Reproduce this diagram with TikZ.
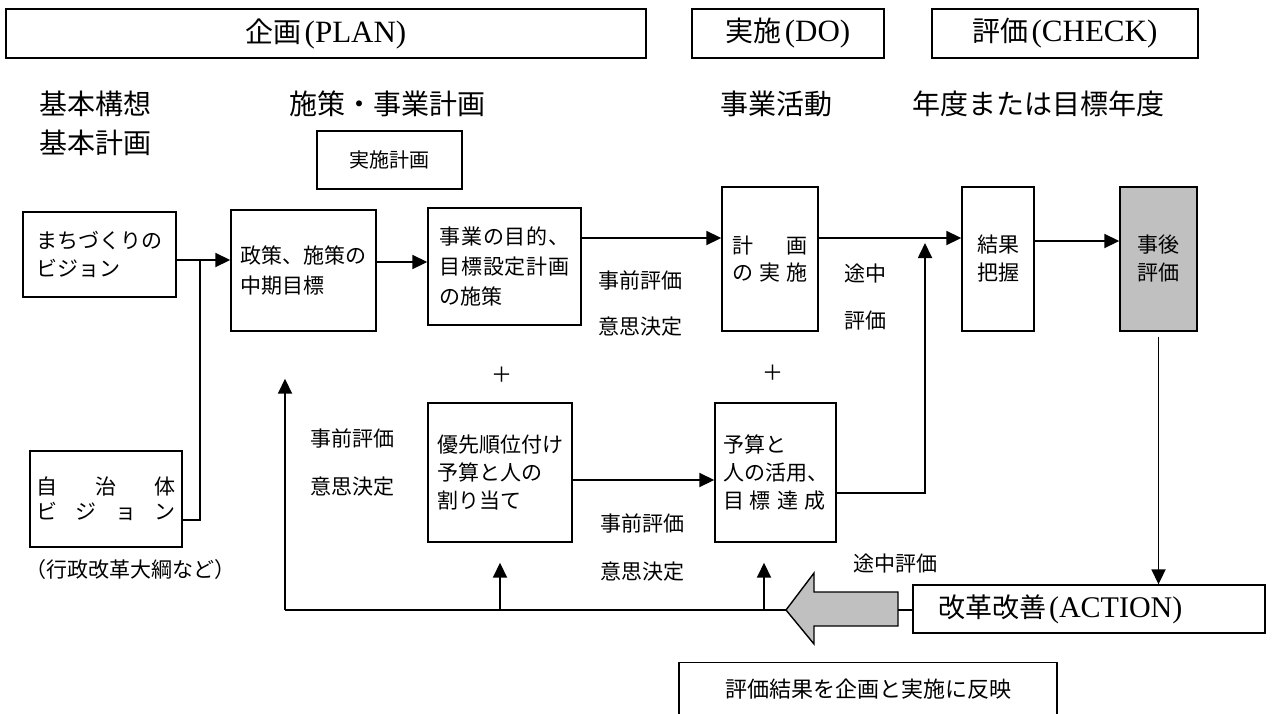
\documentclass[tikz,border=0pt]{standalone}
\usepackage{fontspec}
\setmainfont{Liberation Serif}
\newfontfamily\jp{Noto Sans CJK JP}
\usetikzlibrary{arrows.meta}
\definecolor{boxgray}{HTML}{C0C0C0}

\begin{document}
\begin{tikzpicture}[x=0.5pt,y=-0.5pt,
  box/.style={draw,line width=0.7pt,inner sep=0pt,align=left,font=\jp\fontsize{10.5}{14}\selectfont},
  title/.style={draw,line width=0.7pt,inner sep=0pt,minimum height=24.5pt,font=\jp\fontsize{14}{16}\selectfont},
  head/.style={anchor=west,inner sep=0pt,font=\jp\fontsize{14}{18}\selectfont},
  lbl/.style={inner sep=0pt,font=\jp\fontsize{10.5}{14}\selectfont},
  arr/.style={line width=0.9pt,-{Triangle[length=7.5pt,width=7pt]}},
  ln/.style={line width=0.8pt}]

\useasboundingbox (0,0) rectangle (1272,713);

% PDCA titles
\node[title,minimum width=320pt] (plan) at (326,33.5) {企画{\rmfamily\fontsize{15.5}{16}\selectfont\hspace{1.5pt}(PLAN)\hspace{1.5pt}}};
\node[title,minimum width=96pt] (do) at (788,33.5) {実施{\rmfamily\fontsize{15.5}{16}\selectfont\hspace{1.5pt}(DO)\hspace{3pt}}};
\node[title,minimum width=133pt] (check) at (1065,33.5) {評価{\rmfamily\fontsize{15.5}{16}\selectfont\hspace{1.5pt}(CHECK)\hspace{3pt}}};

\node[head] (h1) at (39,104) {基本構想};
\node[head] (h2) at (39,143) {基本計画};
\node[head] (h3) at (289,104) {施策・事業計画};
\node[head] (h4) at (720,104) {事業活動};
\node[head] (h5) at (912,104) {年度または目標年度};
\node[box,align=center,minimum width=72.5pt,minimum height=29pt,font=\jp\fontsize{10}{12}\selectfont] (jk) at (389.5,160) {実施計画};

% upper row
\node[box,minimum width=76.5pt,minimum height=42.5pt] (vision) at (99.5,254.5) {まちづくりの\\ビジョン};
\node[box,minimum width=72.5pt,minimum height=60.5pt,font=\jp\fontsize{10.5}{15}\selectfont] (policy) at (303.5,270.5) {政策、施策の\\中期目標};
\node[box,minimum width=76.5pt,minimum height=58.5pt,font=\jp\fontsize{10.5}{15}\selectfont] (purpose) at (504.5,266.5)
  {\makebox[65pt][s]{事\hfil 業\hfil の\hfil 目\hfil 的\hfil 、}\\\makebox[65pt][s]{目\hfil 標\hfil 設\hfil 定\hfil 計\hfil 画}\\の施策};
\node[box,minimum width=48pt,minimum height=72pt,font=\jp\fontsize{10.5}{13.5}\selectfont] (exec) at (770,259)
  {\makebox[37.5pt][s]{計\hfil 画}\\\makebox[37.5pt][s]{の\hfil 実\hfil 施}};
\node[box,align=center,minimum width=36pt,minimum height=72pt] (result) at (998,259) {結果\\把握};
\node[box,align=center,fill=boxgray,minimum width=38.5pt,minimum height=72pt] (post) at (1158.5,259) {事後\\評価};

% lower row
\node[box,minimum width=72pt,minimum height=69.5pt] (prio) at (500,472.5) {優先順位付け\\予算と人の\\割り当て};
\node[box,minimum width=60.5pt,minimum height=69.5pt] (budget) at (775.5,472.5)
  {予算と\\人の活用、\\\makebox[51pt][s]{目\hfil 標\hfil 達\hfil 成}};
\node[box,minimum width=76pt,minimum height=48pt,font=\jp\fontsize{10.5}{12.5}\selectfont] (local) at (106,499)
  {\makebox[70pt][s]{自\hfil 治\hfil 体}\\\makebox[70pt][s]{ビ\hfil ジ\hfil ョ\hfil ン}};
\node[lbl,anchor=west] (gyosei) at (25,570) {（行政改革大綱など）};

\node[box,text width=151pt,inner xsep=12.5pt,minimum height=24pt,font=\jp\fontsize{13.5}{16}\selectfont] (action) at (1089,609) {改革改善{\rmfamily\fontsize{15}{16}\selectfont\hspace{1.5pt}(ACTION)}};
\node[draw,line width=0.7pt,anchor=north,inner sep=0pt,minimum width=189pt,text height=17.2pt,text depth=16.8pt,font=\jp\fontsize{11}{13}\selectfont] (reflect) at (868,662) {評価結果を企画と実施に反映};

% labels
\node[lbl] (pe1) at (640.5,280) {事前評価};
\node[lbl] (dm1) at (640.5,327) {意思決定};
\node[lbl] (mid1) at (865,274) {途中};
\node[lbl] (mid2) at (865,321) {評価};
\node[lbl] (plus1) at (502,375) {＋};
\node[lbl] (plus2) at (773,373) {＋};
\node[lbl] (pe2) at (352,438) {事前評価};
\node[lbl] (dm2) at (352,487) {意思決定};
\node[lbl] (pe3) at (642.5,523) {事前評価};
\node[lbl] (dm3) at (642.5,572) {意思決定};
\node[lbl] (mid3) at (895,563) {途中評価};

% flow
\coordinate (j1) at (200,260);
\coordinate (j2) at (200,520);
\draw[arr] (vision.east |- j1) -- (policy.west |- j1);
\draw[ln] (local.east |- j2) -- (j2) -- (j1);

\coordinate (p1) at ([yshift=4.25pt]policy.east);
\draw[arr] (p1) -- (p1 -| purpose.west);
\coordinate (p2) at ([yshift=14.25pt]purpose.east);
\draw[arr] (p2) -- (p2 -| exec.west);
\coordinate (p3) at ([yshift=10.5pt]exec.east);
\draw[arr] (p3) -- (p3 -| result.west);
\coordinate (p4) at ([yshift=9pt]result.east);
\draw[arr] (p4) -- (p4 -| post.west);
\draw[arr,shorten <=2.5pt] (post.south) -- (post.south |- action.north);

\coordinate (p5) at ([yshift=-3.75pt]prio.east);
\draw[arr] (p5) -- (p5 -| budget.west);
\coordinate (bo) at ([yshift=-10.25pt]budget.east);
\coordinate (m1) at (925,243);
\draw[arr] (bo) -| (m1);

% feedback
\coordinate (fbtip) at (786,610);
\coordinate (fbtail) at (898,610);
\coordinate (c1) at (285,610);
\coordinate (bs) at ([xshift=-5.75pt]budget.south);
\filldraw[fill=boxgray,line width=0.7pt] (fbtip) -- (814,573) -- (814,592) -- (898,592) -- (898,626) -- (814,626) -- (814,644) -- cycle;
\draw[ln] (action.west |- fbtail) -- (fbtail);
\draw[ln] (fbtip) -- (c1);
\draw[arr,shorten >=23.5pt] (c1) -- (c1 |- policy.south);
\draw[arr,shorten >=10pt] (prio.south |- c1) -- (prio.south);
\draw[arr,shorten >=10pt] (bs |- c1) -- (bs);
\end{tikzpicture}
\end{document}
